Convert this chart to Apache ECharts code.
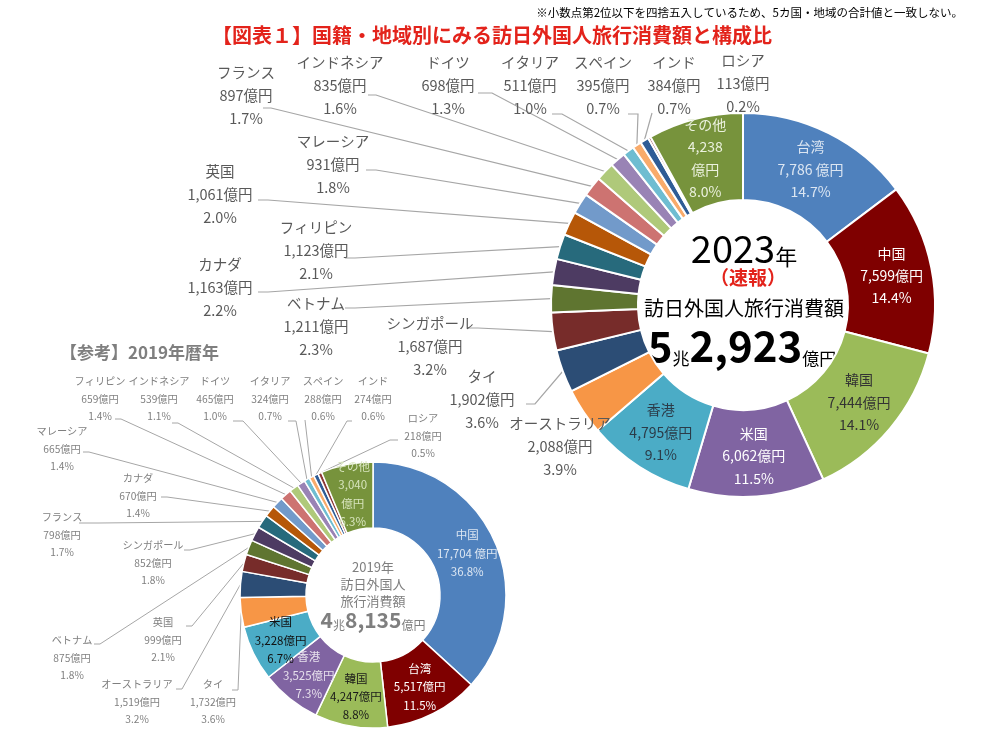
<!DOCTYPE html>
<html>
<head>
<meta charset="utf-8">
<title>国籍・地域別にみる訪日外国人旅行消費額と構成比</title>
<script src="https://cdn.jsdelivr.net/npm/echarts@6/dist/echarts.min.js"></script>
<style>
html, body { margin: 0; padding: 0; background: #fff; }
#main { width: 985px; height: 730px; }
</style>
</head>
<body>
<div id="main"></div>
<script>
// 2023年（速報）
var names23 = ['台湾', '中国', '韓国', '米国', '香港', 'オーストラリア', 'タイ', 'シンガポール', 'ベトナム', 'カナダ', 'フィリピン', '英国', 'マレーシア', 'フランス', 'インドネシア', 'ドイツ', 'イタリア', 'スペイン', 'インド', 'ロシア', 'その他'];
var values23 = [7786, 7599, 7444, 6062, 4795, 2088, 1902, 1687, 1211, 1163, 1123, 1061, 931, 897, 835, 698, 511, 395, 384, 113, 4238];
var pct23 = [14.7, 14.4, 14.1, 11.5, 9.1, 3.9, 3.6, 3.2, 2.3, 2.2, 2.1, 2.0, 1.8, 1.7, 1.6, 1.3, 1.0, 0.7, 0.7, 0.2, 8.0];

// 【参考】2019年暦年
var names19 = ['中国', '台湾', '韓国', '香港', '米国', 'タイ', 'オーストラリア', '英国', 'ベトナム', 'シンガポール', 'フランス', 'カナダ', 'マレーシア', 'フィリピン', 'インドネシア', 'ドイツ', 'イタリア', 'スペイン', 'インド', 'ロシア', 'その他'];
var values19 = [17704, 5517, 4247, 3525, 3228, 1732, 1519, 999, 875, 852, 798, 670, 665, 659, 539, 465, 324, 288, 274, 218, 3040];
var pct19 = [36.8, 11.5, 8.8, 7.3, 6.7, 3.6, 3.2, 2.1, 1.8, 1.8, 1.7, 1.4, 1.4, 1.4, 1.1, 1.0, 0.7, 0.6, 0.6, 0.5, 6.3];

// 並び順ごとの色 (名前ではなく順番で塗る)
var palette = ['#4F81BD', '#7F0000', '#9BBB59', '#8064A2', '#4BACC6', '#F79646',
    '#2C4D75', '#772C2A', '#5F7530', '#4D3B62', '#276A7C', '#B65708',
    '#729ACA', '#CD7371', '#AFC97A', '#9983B5', '#6FBDD1', '#F9AB6B',
    '#2F5C96', '#8C3836', '#77933C'];

var FONT = '"Noto Sans CJK JP", "Noto Sans", sans-serif';

// 内側ラベルの文字色
var inner23 = { 0: '#DCE6F2', 1: '#FFFFFF', 2: '#333333', 3: '#FFFFFF', 4: '#2B3B48', 20: '#EBF1DE' };
var inner19 = { 0: '#DCE6F2', 1: '#FFFFFF', 2: '#1A1A1A', 3: '#E6E0EC', 4: '#111111', 20: '#D7E4BD' };

// 外側ラベルの位置 (x,y: ラベル中心 / ax,ay: 引出線の端 / dx: 折れ)
var lay23 = {
    5: { x: 560, y: 446 },
    6: { x: 482, y: 399, ax: 526, ay: 404, dx: 9 },
    7: { x: 430, y: 346, ax: 468, ay: 328, dx: 10 },
    8: { x: 316, y: 326, ax: 345, ay: 308, dx: 10 },
    9: { x: 220, y: 287, ax: 258, ay: 292, dx: 10 },
    10: { x: 316, y: 250, ax: 345, ay: 258, dx: 10 },
    11: { x: 220, y: 194, ax: 258, ay: 200, dx: 10 },
    12: { x: 333, y: 164, ax: 366, ay: 170, dx: 10 },
    13: { x: 246, y: 95, ax: 263, ay: 108, dx: 8 },
    14: { x: 340, y: 85, ax: 368, ay: 95, dx: 8 },
    15: { x: 448, y: 85, ax: 478, ay: 93, dx: 14 },
    16: { x: 530, y: 85, ax: 552, ay: 114, dx: 10 },
    17: { x: 603, y: 85, ax: 628, ay: 114, dx: 10 },
    18: { x: 674, y: 85, ax: 652, ay: 113, dx: 0 },
    19: { x: 743, y: 83 }
};
var lay19 = {
    5: { x: 213, y: 702, ax: 232, ay: 690, dx: 6 },
    6: { x: 137, y: 702, ax: 176, ay: 689, dx: 6 },
    7: { x: 163, y: 640, ax: 186, ay: 626, dx: 6 },
    8: { x: 72, y: 658, ax: 94, ay: 644, dx: 6 },
    9: { x: 153, y: 563, ax: 184, ay: 550, dx: 6 },
    10: { x: 62, y: 535, ax: 79, ay: 523, dx: 20 },
    11: { x: 138, y: 496, ax: 161, ay: 497, dx: 6 },
    12: { x: 62, y: 449, ax: 83, ay: 452, dx: 6 },
    13: { x: 100, y: 399, ax: 115, ay: 419, dx: 6 },
    14: { x: 159, y: 399, ax: 172, ay: 423, dx: 6 },
    15: { x: 215, y: 399, ax: 233, ay: 421, dx: 10 },
    16: { x: 270, y: 399, ax: 288, ay: 421, dx: 8 },
    17: { x: 323, y: 399, ax: 305, ay: 420, dx: 0 },
    18: { x: 373, y: 399, ax: 352, ay: 421, dx: -5 },
    19: { x: 423, y: 436, ax: 398, ay: 440, dx: -8 }
};

function fmt(v) {
    return String(v).replace(/\B(?=(\d{3})+(?!\d))/g, ',');
}

function buildData(names, values, inner, innerSize) {
    var arr = [];
    for (var i = 0; i < names.length; i++) {
        var item = { name: names[i], value: values[i], itemStyle: { color: palette[i] } };
        if (inner[i]) {
            item.label = { position: 'inside', color: inner[i], fontSize: innerSize, lineHeight: innerSize * 1.6 };
            item.labelLine = { show: false };
        }
        arr.push(item);
    }
    return arr;
}

function labelText(names, pcts) {
    return function (p) {
        var i = p.dataIndex;
        var unit = i === 0 ? ' 億円' : '億円';
        if (names[i] === 'その他') {
            return names[i] + '\n' + fmt(p.value) + '\n億円\n' + pcts[i].toFixed(1) + '%';
        }
        return names[i] + '\n' + fmt(p.value) + unit + '\n' + pcts[i].toFixed(1) + '%';
    };
}

function layoutFn(lay) {
    return function (params) {
        var l = lay[params.dataIndex];
        if (!l) return {};
        var out = { x: l.x, y: l.y, align: 'center', verticalAlign: 'middle' };
        if (l.ax != null && params.labelLinePoints) {
            var p0 = params.labelLinePoints[0];
            out.labelLinePoints = [p0, [l.ax + l.dx, l.ay], [l.ax, l.ay]];
        }
        return out;
    };
}

var data23 = buildData(names23, values23, inner23, 14);
var data19 = buildData(names19, values19, inner19, 11.5);
// ロシア・オーストラリアは引出線なし
data23[5].labelLine = { show: false };
data23[19].labelLine = { show: false };

var myChart = echarts.init(document.getElementById('main'));
var option = {
    animation: false,
    textStyle: { fontFamily: FONT },
    series: [
        {
            name: '2023年',
            type: 'pie',
            center: [743, 305],
            radius: [105, 192],
            startAngle: 90,
            avoidLabelOverlap: false,
            silent: true,
            itemStyle: { borderColor: '#fff', borderWidth: 2 },
            label: {
                formatter: labelText(names23, pct23),
                color: '#595959',
                fontSize: 14.5,
                lineHeight: 23,
                fontFamily: FONT
            },
            labelLine: { show: true, lineStyle: { color: '#A6A6A6', width: 1.2 } },
            labelLayout: layoutFn(lay23),
            data: data23
        },
        {
            name: '2019年',
            type: 'pie',
            center: [373, 595],
            radius: [67, 133],
            startAngle: 90,
            avoidLabelOverlap: false,
            silent: true,
            itemStyle: { borderColor: '#fff', borderWidth: 1.5 },
            label: {
                formatter: labelText(names19, pct19),
                color: '#7F7F7F',
                fontSize: 10.2,
                lineHeight: 17.5,
                fontFamily: FONT
            },
            labelLine: { show: true, lineStyle: { color: '#A6A6A6', width: 1 } },
            labelLayout: layoutFn(lay19),
            data: data19
        }
    ],
    graphic: [
        {
            type: 'text', x: 963, y: 13,
            style: { text: '※小数点第2位以下を四捨五入しているため、5カ国・地域の合計値と一致しない。', fontSize: 11.5, fontFamily: FONT, fill: '#000', align: 'right', verticalAlign: 'middle' }
        },
        {
            type: 'text', x: 212, y: 35,
            style: { text: '【図表１】国籍・地域別にみる訪日外国人旅行消費額と構成比', fontSize: 20, fontWeight: 'bold', fontFamily: FONT, fill: '#E3231B', align: 'left', verticalAlign: 'middle' }
        },
        {
            type: 'text', x: 60, y: 353,
            style: { text: '【参考】2019年暦年', fontSize: 17, fontWeight: 'bold', fontFamily: FONT, fill: '#7F7F7F', align: 'left', verticalAlign: 'middle' }
        },
        // 2023 中央
        {
            type: 'text', x: 744, y: 248,
            style: {
                text: '{a|2023}{b|年}', align: 'center', verticalAlign: 'middle',
                rich: {
                    a: { fontSize: 38, fontFamily: FONT, fill: '#000', lineHeight: 40, verticalAlign: 'bottom' },
                    b: { fontSize: 22, fontFamily: FONT, fill: '#000', lineHeight: 26, verticalAlign: 'bottom' }
                }
            }
        },
        {
            type: 'text', x: 748, y: 278,
            style: { text: '（速報）', fontSize: 19, fontWeight: 'bold', fontFamily: FONT, fill: '#E3231B', align: 'center', verticalAlign: 'middle' }
        },
        {
            type: 'text', x: 744, y: 308,
            style: { text: '訪日外国人旅行消費額', fontSize: 20, fontFamily: FONT, fill: '#000', align: 'center', verticalAlign: 'middle' }
        },
        {
            type: 'text', x: 742, y: 345,
            style: {
                text: '{a|5}{b|兆}{a|2,923}{b|億円}', align: 'center', verticalAlign: 'middle',
                rich: {
                    a: { fontSize: 42, fontWeight: 'bold', fontFamily: FONT, fill: '#000', lineHeight: 44, verticalAlign: 'bottom' },
                    b: { fontSize: 17, fontFamily: FONT, fill: '#000', lineHeight: 24, verticalAlign: 'bottom' }
                }
            }
        },
        // 2019 中央
        {
            type: 'text', x: 373, y: 584,
            style: { text: '2019年\n訪日外国人\n旅行消費額', fontSize: 13, lineHeight: 17, fontFamily: FONT, fill: '#7F7F7F', align: 'center', verticalAlign: 'middle' }
        },
        {
            type: 'text', x: 373, y: 619,
            style: {
                text: '{a|4}{b|兆}{a|8,135}{b|億円}', align: 'center', verticalAlign: 'middle',
                rich: {
                    a: { fontSize: 21, fontWeight: 'bold', fontFamily: FONT, fill: '#7F7F7F', lineHeight: 24, verticalAlign: 'bottom' },
                    b: { fontSize: 12, fontFamily: FONT, fill: '#7F7F7F', lineHeight: 17, verticalAlign: 'bottom' }
                }
            }
        }
    ]
};

myChart.setOption(option);
window.addEventListener('resize', function () {
    myChart.resize();
});
</script>
</body>
</html>
